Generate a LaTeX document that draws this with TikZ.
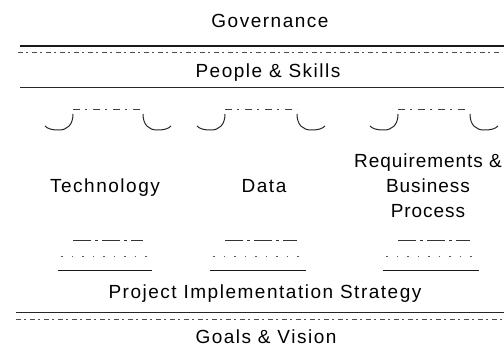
\documentclass[tikz,border=0pt]{standalone}
\usepackage{fontspec}
\setmainfont{Liberation Sans}[LetterSpace=8]
\newfontfamily\tightfont{Liberation Sans}[LetterSpace=5]
\begin{document}
\begin{tikzpicture}[x=1pt,y=-1pt,
  label/.style={inner sep=0pt, anchor=base, font=\fontsize{19}{25}\selectfont},
  beam/.style={line width=1pt, draw=black!85},
  heavybeam/.style={line width=1.8pt, draw=black!90},
  faintbeam/.style={line width=0.9pt, draw=black!70, dash pattern=on 5pt off 3pt on 2pt off 4pt},
  capline/.style={line width=0.9pt, draw=black!75, dash pattern=on 7pt off 5pt on 2pt off 6pt},
  scroll/.style={line width=1pt, draw=black!85},
  plinthtop/.style={line width=0.9pt, draw=black!80, dash pattern=on 18pt off 4pt on 3pt off 4pt},
  plinthmid/.style={line width=0.8pt, draw=black!65, dash pattern=on 1.5pt off 9pt},
  plinthfoot/.style={line width=1.1pt, draw=black!90}]
\useasboundingbox (0,0) rectangle (504,352);

% ---- roof and beam ----
\node[label] (gov) at (270,28) {Governance};
\draw[heavybeam] (20,46) -- (504,46);
\draw[faintbeam] (18,52) -- (502,52);
\node[label] (people) at (268,78) {People \& Skills};
\draw[beam] (20,88) -- (504,88);

% ---- column capitals (L = left edge, R = right edge) ----
\foreach \L/\R in {73/143, 225/297, 398/470}{
  \draw[capline] (\L,109) -- (\R,109);
  \draw[scroll] (\L,114) .. controls (\L,125) and (\L-6,130) .. (\L-14,130)
                .. controls (\L-21,130) and (\L-25,129) .. (\L-28,126);
  \draw[scroll] (\R,114) .. controls (\R,125) and (\R+6,130) .. (\R+14,130)
                .. controls (\R+21,130) and (\R+25,129) .. (\R+28,126);
}

% ---- column labels ----
\node[label] (tech) at (105,193) {Technology};
\node[label] (data) at (264,193) {Data};
% a multi-line node sits on the baseline of its last line
\node[label, align=center, font=\fontsize{19}{25}\selectfont\tightfont] (req) at (428,218)
  {Requirements \&\\Business\\Process};

% ---- column bases ----
\foreach \L/\R in {73/143, 225/297, 398/470}{
  \draw[plinthtop] (\L,240) -- (\R,240);
  \draw[plinthmid] (\L-12,256) -- (\R+6,256);
  \draw[plinthfoot] (\L-15,270.5) -- (\R+9,270.5);
}

% ---- foundation ----
\node[label] (strategy) at (265,299) {Project Implementation Strategy};
\draw[beam] (16,312.5) -- (504,312.5);
\draw[faintbeam] (16,319) -- (502,319);
\node[label] (goals) at (266,344) {Goals \& Vision};
\end{tikzpicture}
\end{document}
